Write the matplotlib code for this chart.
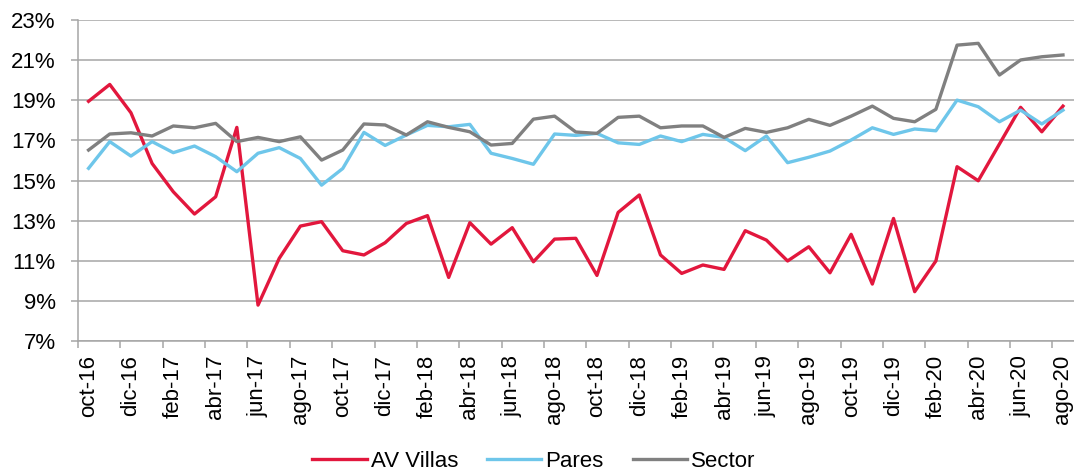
import matplotlib
matplotlib.use("Agg")
import matplotlib.pyplot as plt
import numpy as np
from matplotlib.ticker import FixedLocator, FuncFormatter

plt.rcParams['font.family'] = ['Liberation Sans', 'DejaVu Sans']

# meses oct-16 .. ago-20
meses = ['ene', 'feb', 'mar', 'abr', 'may', 'jun', 'jul', 'ago', 'sep', 'oct', 'nov', 'dic']
categorias = []
for anio in range(16, 21):
    for m, nombre in enumerate(meses):
        if (anio == 16 and m < 9) or (anio == 20 and m > 7):
            continue
        categorias.append('{}-{}'.format(nombre, anio))

av_villas = [18.95, 19.79, 18.38, 15.85, 14.44, 13.33, 14.19, 17.65, 8.79, 11.12,
             12.73, 12.95, 11.5, 11.29, 11.9, 12.86, 13.25, 10.17, 12.9, 11.83,
             12.65, 10.95, 12.08, 12.12, 10.27, 13.41, 14.28, 11.29, 10.37, 10.79,
             10.57, 12.5, 12.03, 10.99, 11.7, 10.4, 12.32, 9.84, 13.11, 9.46,
             10.99, 15.69, 14.99, 16.82, 18.65, 17.43, 18.71]
pares = [15.61, 16.94, 16.22, 16.94, 16.39, 16.72, 16.19, 15.44, 16.36, 16.64,
         16.1, 14.77, 15.6, 17.4, 16.75, 17.27, 17.75, 17.68, 17.8, 16.36,
         16.1, 15.81, 17.32, 17.25, 17.35, 16.88, 16.8, 17.22, 16.94, 17.3,
         17.15, 16.49, 17.22, 15.89, 16.16, 16.47, 17.02, 17.63, 17.3, 17.57,
         17.48, 19.01, 18.68, 17.93, 18.51, 17.82, 18.51]
sector = [16.52, 17.32, 17.38, 17.22, 17.72, 17.63, 17.85, 16.94, 17.15, 16.94,
          17.18, 16.02, 16.52, 17.82, 17.77, 17.27, 17.93, 17.65, 17.43, 16.77,
          16.85, 18.06, 18.21, 17.42, 17.35, 18.15, 18.21, 17.63, 17.72, 17.72,
          17.15, 17.6, 17.4, 17.63, 18.05, 17.75, 18.21, 18.71, 18.1, 17.93,
          18.55, 21.75, 21.84, 20.26, 21.01, 21.17, 21.26]

fs = 16

fig = plt.figure(figsize=(10.74, 4.72), dpi=100)
ax = fig.add_axes([0.0726, 0.2775, 0.927, 0.68])

x = np.arange(len(categorias))
ax.plot(x, av_villas, color='#E2173D', lw=2.4, label='AV Villas')
ax.plot(x, pares, color='#6EC6EA', lw=2.4, label='Pares')
ax.plot(x, sector, color='#808080', lw=2.4, label='Sector')

ax.set_xlim(-0.5, len(categorias) - 0.5)
ax.set_ylim(7, 23)
ax.set_yticks(np.arange(7, 24, 2))
ax.yaxis.set_major_formatter(FuncFormatter(lambda v, p: '{:.0f}%'.format(v)))
ax.grid(axis='y', color='#A6A6A6', lw=1.1)
ax.set_axisbelow(True)

ax.set_xticks(x[::2])
ax.set_xticklabels(categorias[::2], rotation=90, fontsize=fs)
ax.xaxis.set_minor_locator(FixedLocator(np.arange(-0.5, len(categorias) - 1, 2)))
ax.tick_params(axis='x', which='major', length=0, pad=10)
ax.tick_params(axis='x', which='minor', length=5, color='#A6A6A6', width=1.1)
ax.tick_params(axis='y', length=5, color='#A6A6A6', width=1.1, labelsize=fs, pad=11)

for s in ['top', 'right']:
    ax.spines[s].set_visible(False)
for s in ['left', 'bottom']:
    ax.spines[s].set_color('#A6A6A6')
    ax.spines[s].set_linewidth(1.1)

fig.legend(loc='center', bbox_to_anchor=(0.497, 0.023), ncol=3, frameon=False,
           fontsize=fs, handlelength=2.45, handletextpad=0.18, columnspacing=1.3)

fig.savefig('out.png', dpi=100)
